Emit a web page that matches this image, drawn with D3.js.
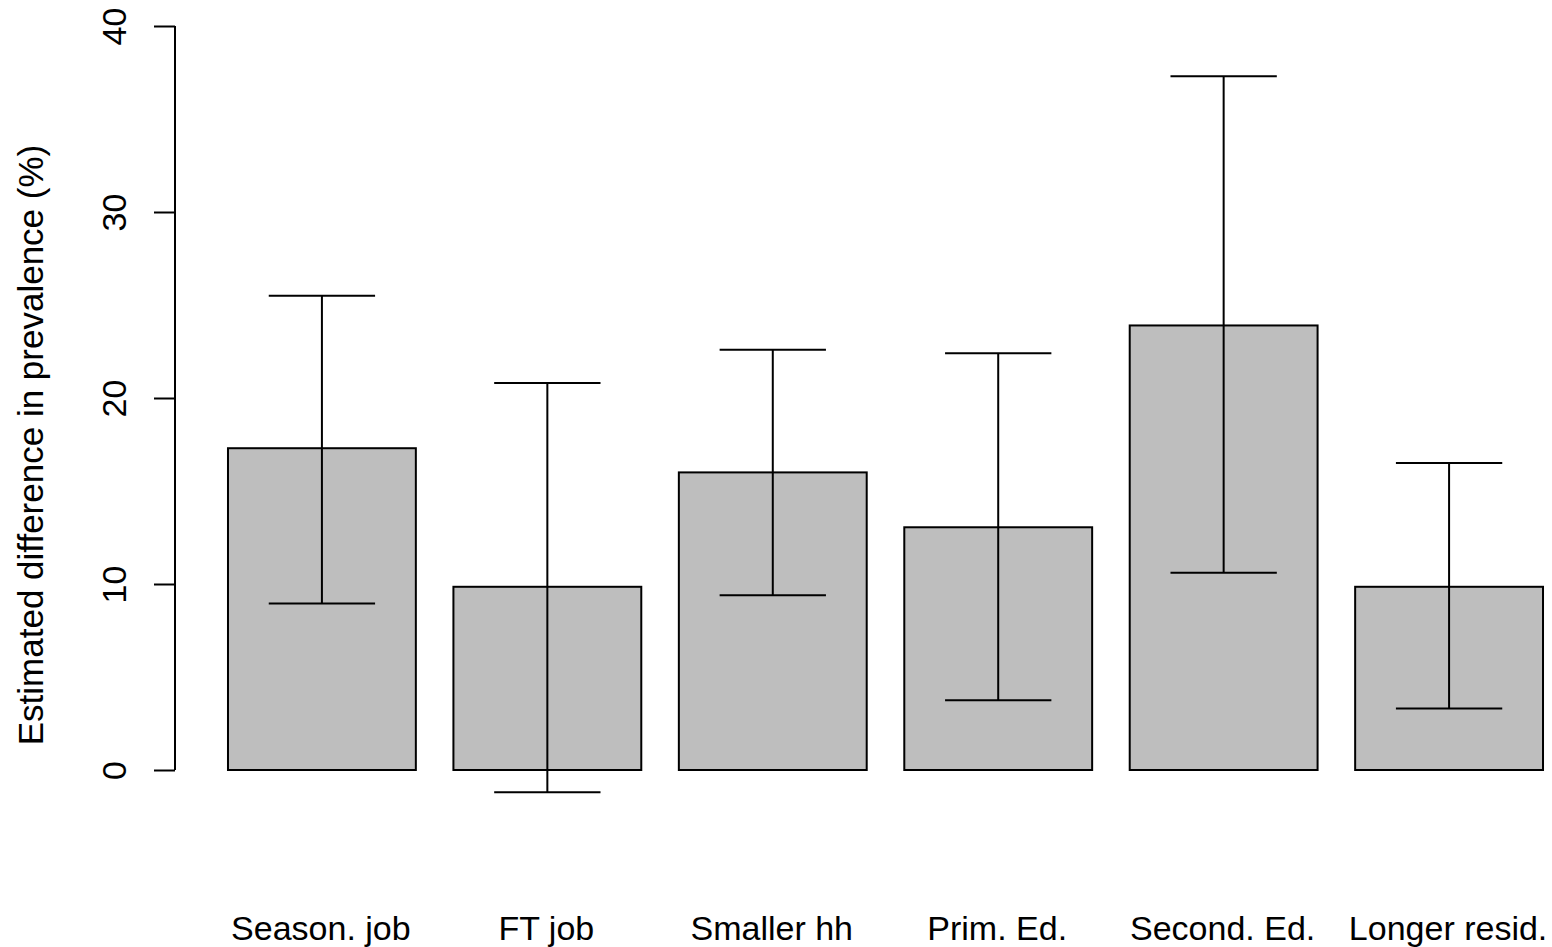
<!DOCTYPE html>
<html>
<head>
<meta charset="utf-8">
<script src="https://cdn.jsdelivr.net/npm/d3@7"></script>
<style>
  html, body { margin: 0; padding: 0; background: #fff; }
  svg text { font-family: "Liberation Sans", Arial, sans-serif; fill: #000; }
</style>
</head>
<body>
<div id="chart"></div>
<script>
// data
const categories = ['Season. job', 'FT job', 'Smaller hh', 'Prim. Ed.', 'Second. Ed.', 'Longer resid.'];
const estimates = [17.3, 9.85, 16.0, 13.05, 23.9, 9.85];
const lowerCI = [8.95, -1.2, 9.4, 3.75, 10.6, 3.3];
const upperCI = [25.5, 20.8, 22.6, 22.4, 37.3, 16.5];
const yTicks = [0, 10, 20, 30, 40];

const width = 1552, height = 947;

const svg = d3.select('#chart')
  .append('svg')
  .attr('width', width)
  .attr('height', height);

const data = categories.map((c, i) => ({ category: c, est: estimates[i], lo: lowerCI[i], hi: upperCI[i] }));

// X and Y scales
const x = d3.scaleBand()
  .domain(categories)
  .range([209.2, 1561.8])
  .paddingInner(1 / 6)
  .paddingOuter(1 / 12);

const y = d3.scaleLinear()
  .domain([0, 40])
  .range([770, 26]);

// Y axis
const yAxis = svg.append('g')
  .attr('transform', 'translate(175,0)')
  .call(d3.axisLeft(y).tickValues(yTicks).tickSize(21).tickPadding(0).tickFormat(d3.format('d')));

yAxis.select('.domain')
  .attr('stroke', '#000')
  .attr('stroke-width', 2)
  .attr('d', `M0,${y(0)}V${y(40)}`);
yAxis.selectAll('.tick line').attr('stroke', '#000').attr('stroke-width', 2);
yAxis.selectAll('.tick text')
  .attr('x', null)
  .attr('dy', null)
  .attr('text-anchor', 'middle')
  .attr('transform', 'translate(-49,0) rotate(-90)')
  .style('font-size', '34px')
  .style('font-family', '"Liberation Sans", Arial, sans-serif');

// Y title
svg.append('text')
  .attr('transform', 'translate(43,445) rotate(-90)')
  .attr('text-anchor', 'middle')
  .style('font-size', '35px')
  .text('Estimated difference in prevalence (%)');

// Bars
svg.append('g')
  .selectAll('rect')
  .data(data)
  .enter().append('rect')
  .attr('x', d => x(d.category))
  .attr('y', d => y(Math.max(0, d.est)))
  .attr('width', x.bandwidth())
  .attr('height', d => Math.abs(y(d.est) - y(0)))
  .attr('fill', '#bebebe')
  .attr('stroke', '#000')
  .attr('stroke-width', 2);

// Error bars
const capHalf = x.bandwidth() * 0.283;
const err = svg.append('g')
  .attr('stroke', '#000')
  .attr('stroke-width', 2)
  .attr('fill', 'none');

err.selectAll('path')
  .data(data)
  .enter().append('path')
  .attr('d', d => {
    const cx = x(d.category) + x.bandwidth() / 2;
    return `M${cx},${y(d.lo)}V${y(d.hi)}` +
      `M${cx - capHalf},${y(d.hi)}H${cx + capHalf}` +
      `M${cx - capHalf},${y(d.lo)}H${cx + capHalf}`;
  });

// Category labels
svg.append('g')
  .selectAll('text')
  .data(categories)
  .enter().append('text')
  .attr('x', d => x(d) + x.bandwidth() / 2 - 1)
  .attr('y', 940)
  .attr('text-anchor', 'middle')
  .style('font-size', '34px')
  .text(d => d);
</script>
</body>
</html>
